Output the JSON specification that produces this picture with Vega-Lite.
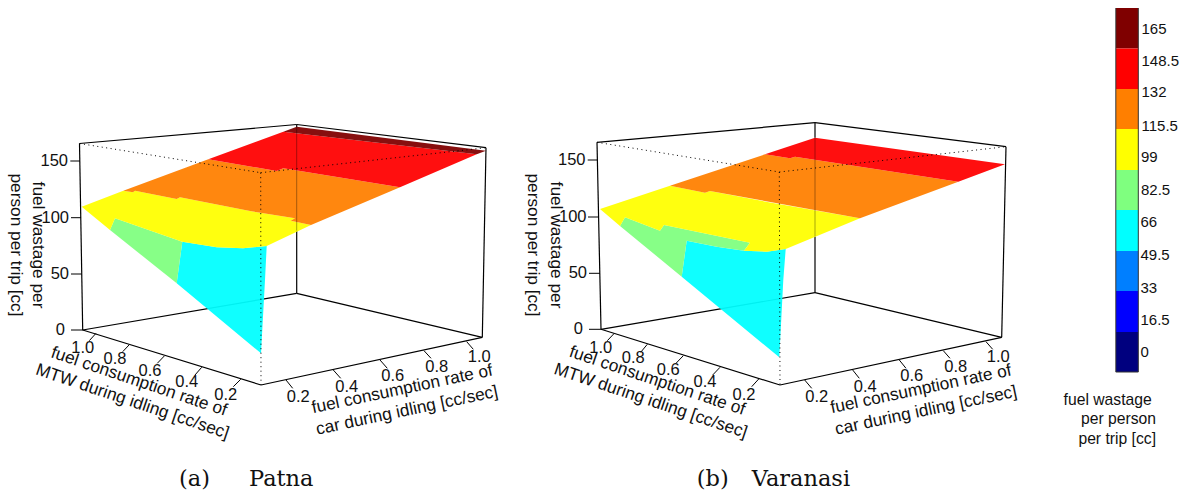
{
"$schema":"https://vega.github.io/schema/vega-lite/v6.json",
"width":1186,"height":494,"padding":0,
"autosize":{"type":"fit","contains":"padding"},
"background":"white",
"config":{"view":{"stroke":null},"text":{"font":"Liberation Sans","color":"#111"}},
"datasets":{
"box":[
{"x":79.5,"y":143.5,"x2":296.7,"y2":124.5},{"x":296.7,"y":124.5,"x2":486,"y2":147.7},{"x":79.5,"y":143.5,"x2":82.7,"y2":330},{"x":296.7,"y":230.7,"x2":296.7,"y2":293.3},{"x":486,"y":147.7,"x2":482.3,"y2":337.3},{"x":82.7,"y":330,"x2":261,"y2":385},{"x":261,"y":385,"x2":482.3,"y2":337.3},{"x":82.7,"y":330,"x2":296.7,"y2":293.3},{"x":296.7,"y":293.3,"x2":482.3,"y2":337.3},
{"x":597,"y":142.3,"x2":815,"y2":122.7},{"x":815,"y":122.7,"x2":1006,"y2":146.7},{"x":597,"y":142.3,"x2":601,"y2":329.3},{"x":815,"y":236.7,"x2":815,"y2":292.7},{"x":1006,"y":146.7,"x2":1001.7,"y2":337.3},{"x":601,"y":329.3,"x2":780,"y2":385},{"x":780,"y":385,"x2":1001.7,"y2":337.3},{"x":601,"y":329.3,"x2":815,"y2":292.7},{"x":815,"y":292.7,"x2":1001.7,"y2":337.3},{"x":296.7,"y":124.5,"x2":296.7,"y2":127},{"x":815,"y":122.7,"x2":815,"y2":137.7}
],
"ticks":[
{"x":70.3,"y":161,"x2":80,"y2":161},{"x":71,"y":217.7,"x2":81,"y2":217.7},{"x":71,"y":274,"x2":81.5,"y2":274},{"x":71,"y":330,"x2":83,"y2":330},
{"x":96,"y":333.3,"x2":89.3,"y2":340.7},{"x":129,"y":345,"x2":122.7,"y2":351.7},{"x":164.3,"y":356,"x2":157.3,"y2":363.3},{"x":201.7,"y":367.3,"x2":195,"y2":375},{"x":240.7,"y":379.3,"x2":233.3,"y2":386.7},
{"x":286,"y":380,"x2":292.7,"y2":388.3},{"x":333.3,"y":370,"x2":340.7,"y2":378.3},{"x":380,"y":360,"x2":387.3,"y2":368.3},{"x":424,"y":350.7,"x2":431,"y2":358.3},{"x":466.7,"y":341.7,"x2":473.3,"y2":349.3},
{"x":587.7,"y":160,"x2":597.5,"y2":160},{"x":588,"y":217,"x2":598.5,"y2":217},{"x":589,"y":273.3,"x2":600,"y2":273.3},{"x":589,"y":329.3,"x2":601,"y2":329.3},
{"x":614.3,"y":333.3,"x2":607.3,"y2":340.7},{"x":647.3,"y":344.3,"x2":640.7,"y2":352.3},{"x":683.3,"y":355.7,"x2":676,"y2":363.3},{"x":720,"y":367.3,"x2":712.7,"y2":375},{"x":758.7,"y":379,"x2":751.7,"y2":386.7},
{"x":804.7,"y":380,"x2":811.7,"y2":388.3},{"x":852.7,"y":370,"x2":859.3,"y2":378.3},{"x":899.3,"y":360,"x2":906,"y2":368.3},{"x":943.3,"y":350.7,"x2":950,"y2":358.3},{"x":986,"y":341.7,"x2":992.7,"y2":349.3}
],
"through":[{"x":296.7,"y":127,"x2":296.7,"y2":230.7},{"x":815,"y":137.7,"x2":815,"y2":236.7}],
"dotted":[
{"x":79.5,"y":143.5,"x2":260.7,"y2":172.7},{"x":260.7,"y":172.7,"x2":486,"y2":147.7},{"x":260.7,"y":172.7,"x2":261,"y2":385},
{"x":597,"y":142.3,"x2":779.3,"y2":172},{"x":779.3,"y":172,"x2":1006,"y2":146.7},{"x":779.3,"y":172,"x2":780,"y2":385}
],
"surface":[
{"id":"a-cyan","band":"cyan","i":1,"x":182.3,"y":241.7},{"id":"a-cyan","band":"cyan","i":2,"x":216.7,"y":247.3},{"id":"a-cyan","band":"cyan","i":3,"x":243,"y":248.3},{"id":"a-cyan","band":"cyan","i":4,"x":266.7,"y":246},{"id":"a-cyan","band":"cyan","i":5,"x":265,"y":280},{"id":"a-cyan","band":"cyan","i":6,"x":261,"y":353.3},{"id":"a-cyan","band":"cyan","i":7,"x":176.7,"y":283.3},
{"id":"a-green","band":"green","i":1,"x":115,"y":218.3},{"id":"a-green","band":"green","i":2,"x":182.3,"y":241.7},{"id":"a-green","band":"green","i":3,"x":176.7,"y":283.3},{"id":"a-green","band":"green","i":4,"x":110,"y":230},
{"id":"a-yellow","band":"yellow","i":1,"x":81.7,"y":206.7},{"id":"a-yellow","band":"yellow","i":2,"x":123.3,"y":190.7},{"id":"a-yellow","band":"yellow","i":3,"x":133,"y":192.3},{"id":"a-yellow","band":"yellow","i":4,"x":135,"y":190.7},{"id":"a-yellow","band":"yellow","i":5,"x":176.7,"y":199},{"id":"a-yellow","band":"yellow","i":6,"x":180,"y":197.3},{"id":"a-yellow","band":"yellow","i":7,"x":250,"y":211},{"id":"a-yellow","band":"yellow","i":8,"x":295,"y":218.3},{"id":"a-yellow","band":"yellow","i":9,"x":290.7,"y":220.7},{"id":"a-yellow","band":"yellow","i":10,"x":311,"y":225},{"id":"a-yellow","band":"yellow","i":11,"x":266.7,"y":246},{"id":"a-yellow","band":"yellow","i":12,"x":243,"y":248.3},{"id":"a-yellow","band":"yellow","i":13,"x":216.7,"y":247.3},{"id":"a-yellow","band":"yellow","i":14,"x":182.3,"y":241.7},{"id":"a-yellow","band":"yellow","i":15,"x":115,"y":218.3},{"id":"a-yellow","band":"yellow","i":16,"x":110,"y":230},
{"id":"a-orange","band":"orange","i":1,"x":123.3,"y":190.7},{"id":"a-orange","band":"orange","i":2,"x":208.3,"y":159.3},{"id":"a-orange","band":"orange","i":3,"x":276.7,"y":171},{"id":"a-orange","band":"orange","i":4,"x":283.3,"y":168.3},{"id":"a-orange","band":"orange","i":5,"x":400,"y":187.3},{"id":"a-orange","band":"orange","i":6,"x":311,"y":225},{"id":"a-orange","band":"orange","i":7,"x":290.7,"y":220.7},{"id":"a-orange","band":"orange","i":8,"x":295,"y":218.3},{"id":"a-orange","band":"orange","i":9,"x":250,"y":211},{"id":"a-orange","band":"orange","i":10,"x":180,"y":197.3},{"id":"a-orange","band":"orange","i":11,"x":176.7,"y":199},{"id":"a-orange","band":"orange","i":12,"x":135,"y":190.7},{"id":"a-orange","band":"orange","i":13,"x":133,"y":192.3},
{"id":"a-red","band":"red","i":1,"x":208.3,"y":159.3},{"id":"a-red","band":"red","i":2,"x":283.3,"y":131.7},{"id":"a-red","band":"red","i":3,"x":476.7,"y":154.3},{"id":"a-red","band":"red","i":4,"x":400,"y":187.3},{"id":"a-red","band":"red","i":5,"x":283.3,"y":168.3},{"id":"a-red","band":"red","i":6,"x":276.7,"y":171},
{"id":"a-dark","band":"dark red","i":1,"x":283.3,"y":131.7},{"id":"a-dark","band":"dark red","i":2,"x":296.7,"y":126.7},{"id":"a-dark","band":"dark red","i":3,"x":486,"y":150.7},{"id":"a-dark","band":"dark red","i":4,"x":476.7,"y":154.3},
{"id":"b-cyan","band":"cyan","i":1,"x":686.7,"y":240.7},{"id":"b-cyan","band":"cyan","i":2,"x":716.7,"y":246.7},{"id":"b-cyan","band":"cyan","i":3,"x":744,"y":250.7},{"id":"b-cyan","band":"cyan","i":4,"x":766.7,"y":251.7},{"id":"b-cyan","band":"cyan","i":5,"x":785.7,"y":249},{"id":"b-cyan","band":"cyan","i":6,"x":783.3,"y":280},{"id":"b-cyan","band":"cyan","i":7,"x":779.3,"y":357.3},{"id":"b-cyan","band":"cyan","i":8,"x":681.7,"y":276.7},
{"id":"b-green","band":"green","i":1,"x":625,"y":217.3},{"id":"b-green","band":"green","i":2,"x":660,"y":230.7},{"id":"b-green","band":"green","i":3,"x":664,"y":225},{"id":"b-green","band":"green","i":4,"x":750,"y":242.7},{"id":"b-green","band":"green","i":5,"x":744,"y":250.7},{"id":"b-green","band":"green","i":6,"x":716.7,"y":246.7},{"id":"b-green","band":"green","i":7,"x":686.7,"y":240.7},{"id":"b-green","band":"green","i":8,"x":681.7,"y":276.7},{"id":"b-green","band":"green","i":9,"x":620,"y":226},
{"id":"b-yellow","band":"yellow","i":1,"x":600,"y":209},{"id":"b-yellow","band":"yellow","i":2,"x":670,"y":185.7},{"id":"b-yellow","band":"yellow","i":3,"x":705,"y":192.7},{"id":"b-yellow","band":"yellow","i":4,"x":710,"y":191},{"id":"b-yellow","band":"yellow","i":5,"x":770,"y":202.5},{"id":"b-yellow","band":"yellow","i":6,"x":860,"y":218.3},{"id":"b-yellow","band":"yellow","i":7,"x":785.7,"y":249},{"id":"b-yellow","band":"yellow","i":8,"x":766.7,"y":251.7},{"id":"b-yellow","band":"yellow","i":9,"x":744,"y":250.7},{"id":"b-yellow","band":"yellow","i":10,"x":750,"y":242.7},{"id":"b-yellow","band":"yellow","i":11,"x":664,"y":225},{"id":"b-yellow","band":"yellow","i":12,"x":660,"y":230.7},{"id":"b-yellow","band":"yellow","i":13,"x":625,"y":217.3},{"id":"b-yellow","band":"yellow","i":14,"x":620,"y":226},
{"id":"b-orange","band":"orange","i":1,"x":670,"y":185.7},{"id":"b-orange","band":"orange","i":2,"x":765,"y":154.3},{"id":"b-orange","band":"orange","i":3,"x":790,"y":158.3},{"id":"b-orange","band":"orange","i":4,"x":795,"y":156.7},{"id":"b-orange","band":"orange","i":5,"x":958.3,"y":181.7},{"id":"b-orange","band":"orange","i":6,"x":860,"y":218.3},{"id":"b-orange","band":"orange","i":7,"x":710,"y":191},{"id":"b-orange","band":"orange","i":8,"x":705,"y":192.7},
{"id":"b-red","band":"red","i":1,"x":765,"y":154.3},{"id":"b-red","band":"red","i":2,"x":815,"y":137.7},{"id":"b-red","band":"red","i":3,"x":1005,"y":164.3},{"id":"b-red","band":"red","i":4,"x":958.3,"y":181.7},{"id":"b-red","band":"red","i":5,"x":795,"y":156.7},{"id":"b-red","band":"red","i":6,"x":790,"y":158.3}
],
"bar":[
{"band":"dark red","x":1116,"x2":1138.3,"y":8,"y2":48.5},{"band":"red","x":1116,"x2":1138.3,"y":48.5,"y2":89},{"band":"orange","x":1116,"x2":1138.3,"y":89,"y2":129},{"band":"yellow","x":1116,"x2":1138.3,"y":129,"y2":170},{"band":"green","x":1116,"x2":1138.3,"y":170,"y2":210},{"band":"cyan","x":1116,"x2":1138.3,"y":210,"y2":251},{"band":"azure","x":1116,"x2":1138.3,"y":251,"y2":291},{"band":"blue","x":1116,"x2":1138.3,"y":291,"y2":332},{"band":"navy","x":1116,"x2":1138.3,"y":332,"y2":372}
],
"barEdge":[{"x":1115.8,"y":8,"x2":1115.8,"y2":372},{"x":1138.3,"y":8,"x2":1138.3,"y2":372},{"x":1115.8,"y":372,"x2":1138.3,"y2":372}],
"zLabels":[
{"x":68,"y":161,"t":"150"},{"x":69,"y":217.7,"t":"100"},{"x":69,"y":274,"t":"50"},{"x":65,"y":330,"t":"0"},
{"x":585.5,"y":160,"t":"150"},{"x":586.5,"y":217,"t":"100"},{"x":587,"y":273.3,"t":"50"},{"x":583,"y":329.3,"t":"0"}
],
"axisLabels":[
{"x":82.7,"y":348.3,"t":"1.0"},{"x":115,"y":359.3,"t":"0.8"},{"x":150,"y":370.7,"t":"0.6"},{"x":186.7,"y":382.3,"t":"0.4"},{"x":225.7,"y":395,"t":"0.2"},
{"x":298.3,"y":397.3,"t":"0.2"},{"x":346.7,"y":386.7,"t":"0.4"},{"x":392.7,"y":376,"t":"0.6"},{"x":436.7,"y":366.7,"t":"0.8"},{"x":479.3,"y":356.7,"t":"1.0"},
{"x":600.7,"y":348.3,"t":"1.0"},{"x":633.3,"y":358.3,"t":"0.8"},{"x":668.3,"y":370,"t":"0.6"},{"x":705,"y":381.7,"t":"0.4"},{"x":744,"y":395,"t":"0.2"},
{"x":816.7,"y":396.7,"t":"0.2"},{"x":865.3,"y":386.7,"t":"0.4"},{"x":911.7,"y":376,"t":"0.6"},{"x":955.7,"y":366.7,"t":"0.8"},{"x":998.3,"y":356.7,"t":"1.0"}
],
"mtwTitle":[
{"x":139,"y":381.7,"t":"fuel consumption rate of"},{"x":132.3,"y":401.7,"t":"MTW during idling [cc/sec]"},
{"x":657.3,"y":381,"t":"fuel consumption rate of"},{"x":650.7,"y":401,"t":"MTW during idling [cc/sec]"}
],
"carTitle":[
{"x":402.3,"y":389.3,"t":"fuel consumption rate of"},{"x":407,"y":410.7,"t":"car during idling [cc/sec]"},
{"x":921,"y":389.3,"t":"fuel consumption rate of"},{"x":926,"y":410.7,"t":"car during idling [cc/sec]"}
],
"yTitle":[
{"x":38,"y":245,"t":"fuel wastage per"},{"x":16,"y":245,"t":"person per trip [cc]"},
{"x":555.5,"y":245,"t":"fuel wastage per"},{"x":532.5,"y":245,"t":"person per trip [cc]"}
],
"captions":[
{"x":179,"y":486,"t":"(a)"},{"x":249,"y":486,"t":"Patna"},{"x":696.7,"y":486,"t":"(b)"},{"x":751.7,"y":486,"t":"Varanasi"}
],
"barLabels":[
{"x":1141.5,"y":29,"t":"165"},{"x":1141.5,"y":61,"t":"148.5"},{"x":1141.5,"y":92,"t":"132"},{"x":1141.5,"y":126,"t":"115.5"},{"x":1141,"y":157,"t":"99"},{"x":1141,"y":190,"t":"82.5"},{"x":1140.5,"y":222,"t":"66"},{"x":1140.5,"y":255,"t":"49.5"},{"x":1140.5,"y":288,"t":"33"},{"x":1140.5,"y":320,"t":"16.5"},{"x":1140.5,"y":352,"t":"0"}
],
"barTitle":[
{"x":1151.7,"y":400,"t":"fuel wastage"},{"x":1156,"y":419,"t":"per person"},{"x":1156,"y":438.7,"t":"per trip [cc]"}
]
},
"encoding":{
"x":{"field":"x","type":"quantitative","axis":null,"scale":{"domain":[0,1186],"nice":false,"zero":false}},
"y":{"field":"y","type":"quantitative","axis":null,"scale":{"domain":[494,0],"nice":false,"zero":false}}
},
"layer":[
{"data":{"name":"box"},"mark":{"type":"rule","color":"#000","strokeWidth":1.2},"encoding":{"x2":{"field":"x2"},"y2":{"field":"y2"}}},
{"data":{"name":"ticks"},"mark":{"type":"rule","color":"#000","strokeWidth":1},"encoding":{"x2":{"field":"x2"},"y2":{"field":"y2"}}},
{"data":{"name":"surface"},"mark":{"type":"line","filled":true,"interpolate":"linear","fillOpacity":0.94},"encoding":{
"color":{"field":"band","type":"nominal","legend":null,"scale":{"domain":["dark red","red","orange","yellow","green","cyan","azure","blue","navy"],"range":["#7F0000","#FF0000","#FF7F00","#FFFF00","#7FFF7F","#00FFFF","#007FFF","#0000FF","#00007F"]}},
"detail":{"field":"id"},"order":{"field":"i","type":"quantitative"}}},
{"data":{"name":"bar"},"mark":{"type":"rect"},"encoding":{"x2":{"field":"x2"},"y2":{"field":"y2"},"color":{"field":"band","type":"nominal","legend":null}}},
{"data":{"name":"barEdge"},"mark":{"type":"rule","color":"#333","strokeWidth":1},"encoding":{"x2":{"field":"x2"},"y2":{"field":"y2"}}},
{"data":{"name":"through"},"mark":{"type":"rule","color":"#000","strokeWidth":1,"opacity":0.35},"encoding":{"x2":{"field":"x2"},"y2":{"field":"y2"}}},
{"data":{"name":"dotted"},"mark":{"type":"rule","color":"#000","strokeWidth":1,"strokeDash":[1,3.5]},"encoding":{"x2":{"field":"x2"},"y2":{"field":"y2"}}},
{"data":{"name":"zLabels"},"mark":{"type":"text","fontSize":16.5,"align":"right","baseline":"middle"},"encoding":{"text":{"field":"t"}}},
{"data":{"name":"axisLabels"},"mark":{"type":"text","fontSize":16.5,"align":"center","baseline":"middle"},"encoding":{"text":{"field":"t"}}},
{"data":{"name":"mtwTitle"},"mark":{"type":"text","fontSize":17.3,"align":"center","baseline":"middle","angle":18.6},"encoding":{"text":{"field":"t"}}},
{"data":{"name":"carTitle"},"mark":{"type":"text","fontSize":17.3,"align":"center","baseline":"middle","angle":348.1},"encoding":{"text":{"field":"t"}}},
{"data":{"name":"yTitle"},"mark":{"type":"text","fontSize":17.3,"align":"center","baseline":"middle","angle":90},"encoding":{"text":{"field":"t"}}},
{"data":{"name":"captions"},"mark":{"type":"text","font":"DejaVu Serif","fontSize":22.5,"align":"left","baseline":"alphabetic"},"encoding":{"text":{"field":"t"}}},
{"data":{"name":"barLabels"},"mark":{"type":"text","fontSize":15,"align":"left","baseline":"middle"},"encoding":{"text":{"field":"t"}}},
{"data":{"name":"barTitle"},"mark":{"type":"text","fontSize":15.7,"align":"right","baseline":"middle"},"encoding":{"text":{"field":"t"}}}
]
}
